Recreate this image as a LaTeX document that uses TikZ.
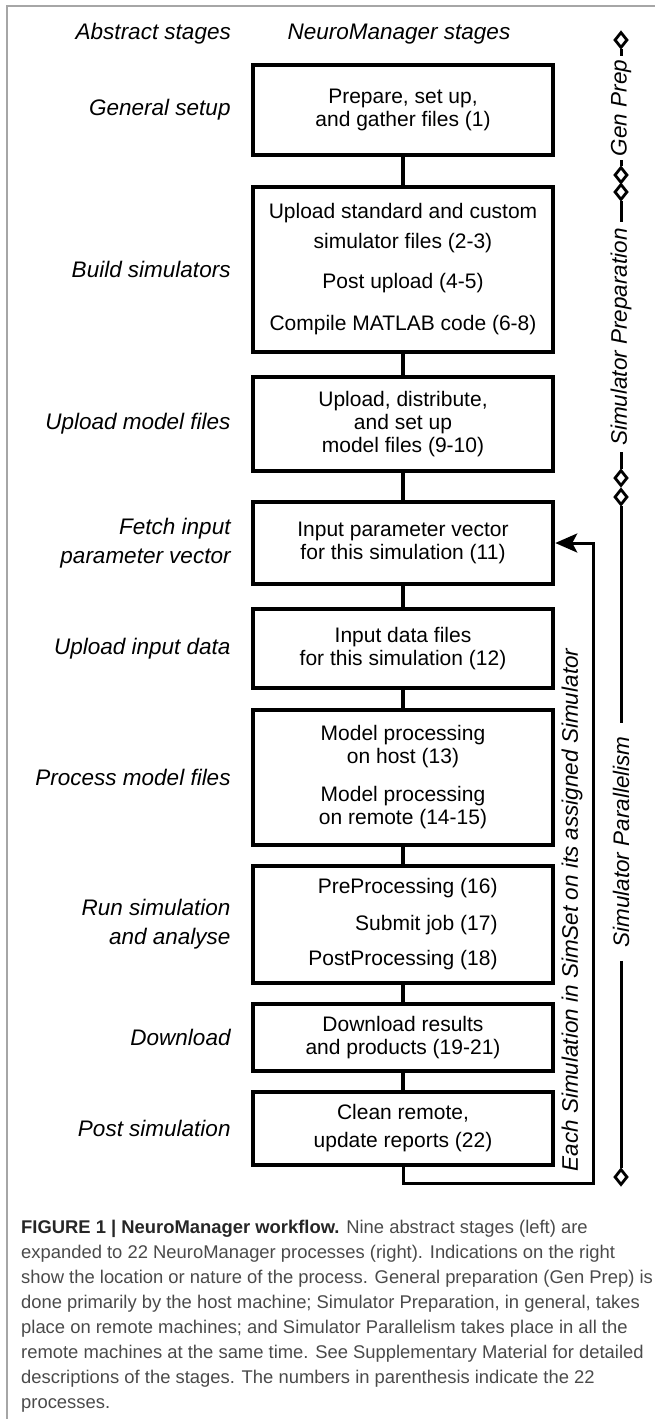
\documentclass[tikz,border=0pt]{standalone}
\usepackage{fontspec}
\setmainfont{Liberation Sans}
\usetikzlibrary{positioning,shapes.geometric,arrows.meta}
\definecolor{captext}{HTML}{4A4A4A}

\begin{document}
\begin{tikzpicture}[x=1pt, y=-1pt,
    stagebox/.style={draw, line width=4.5pt, minimum width=300pt, inner sep=0pt, align=center, font=\fontsize{21}{23}\selectfont},
    abstract/.style={align=right, inner sep=0pt, font=\itshape\fontsize{22.5}{29}\selectfont},
    conn/.style={line width=4pt},
    back/.style={line width=3pt, -{Stealth[length=22pt, width=19pt, inset=5pt]}},
    diam/.style={diamond, draw, fill=white, line width=2.8pt, minimum width=13pt, minimum height=16pt, inner sep=0pt},
    side/.style={rotate=90, inner xsep=4pt, inner ysep=0pt, font=\itshape\fontsize{22.5}{27}\selectfont},
    bar/.style={line width=3pt},
    caption/.style={anchor=base west, inner sep=0pt, text=captext, font=\fontsize{18.4}{25}\selectfont},
    frame/.style={draw=gray!70, line width=1.5pt}]
                \useasboundingbox (0,0) rectangle (655,1419);
                \draw[frame] (7,1419) -- (7,6) -- (655,6);
                \node[abstract, anchor=east] (H1) at (231,34) {Abstract stages};
                \node[abstract] (H2) at (399,34) {NeuroManager stages};
                \foreach \n/\t/\b/\lab/\txt in {
                    1/65/155/{General setup}/{Prepare, set up,\\and gather files (1)},
                    2/187/352/{Build simulators}/{Upload standard and custom\\[7pt]simulator files (2-3)\\[17pt]Post upload (4-5)\\[19pt]Compile MATLAB code (6-8)},
                    3/377/471/{Upload model files}/{Upload, distribute,\\and set up\\model files (9-10)},
                    4/502/584/{Fetch input\\parameter vector}/{Input parameter vector\\for this simulation (11)},
                    5/609/688/{Upload input data}/{Input data files\\for this simulation (12)},
                    6/710/845/{Process model files}/{Model processing\\on host (13)\\[15pt]Model processing\\on remote (14-15)},
                    7/866/983/{Run simulation\\and analyse}/{\begin{tabular}{@{}r@{}}PreProcessing (16)\\[14pt]Submit job (17)\\[12pt]PostProcessing (18)\end{tabular}},
                    8/1004/1071/{Download}/{Download results\\and products (19-21)},
                    9/1092/1165/{Post simulation}/{Clean remote,\\[5pt]update reports (22)}} {
                    \pgfmathsetmacro{\h}{\b - \t}
                    \pgfmathsetmacro{\c}{(\t + \b)/2}
                    \node[stagebox, minimum height=\h pt] (B\n) at (403,\c) {\txt};
                    \node[abstract, left=20pt of B\n] (L\n) {\lab};
                }
                \foreach \i in {1,...,8} {
                    \pgfmathtruncatemacro{\j}{\i + 1}
                    \draw[conn] (B\i) -- (B\j);
                }
                \coordinate (fb) at (593,1183);
                \draw[back] (B9.south) |- (fb) |- (B4.east);
                \node[side, inner xsep=0pt] (E) at (572,910) {Each Simulation in SimSet on its assigned Simulator};
                % markers on the right
                \node[diam] (D1) at (621,40) {};
                \node[side] (S1) at (621,108) {Gen Prep};
                \node[diam] (D2) at (621,175) {};
                \node[diam] (D3) at (621,192) {};
                \node[side, inner xsep=6pt] (S2) at (621,337) {Simulator Preparation};
                \node[diam] (D4) at (621,478) {};
                \node[diam] (D5) at (621,497) {};
                \node[side, inner xsep=13pt] (S3) at (621,842) {Simulator Parallelism};
                \node[diam] (D6) at (621,1177) {};
                \draw[bar] (D1) -- (S1) -- (D2) (D3) -- (S2) -- (D4) (D5) -- (S3) -- (D6);
                \foreach \ln [count=\k] in {
                    {\textcolor{black!85}{\textbf{FIGURE 1 | NeuroManager workflow.}} Nine abstract stages (left) are},
                    {expanded to 22 NeuroManager processes (right). Indications on the right},
                    {show the location or nature of the process. General preparation (Gen Prep) is},
                    {done primarily by the host machine; Simulator Preparation, in general, takes},
                    {place on remote machines; and Simulator Parallelism takes place in all the},
                    {remote machines at the same time. See Supplementary Material for detailed},
                    {descriptions of the stages. The numbers in parenthesis indicate the 22},
                    {processes.}} {
                    \pgfmathsetmacro{\y}{1233 + 25.1*(\k - 1)}
                    \node[caption] (C\k) at (21,\y) {\ln};
                }
            \end{tikzpicture}
\end{document}
